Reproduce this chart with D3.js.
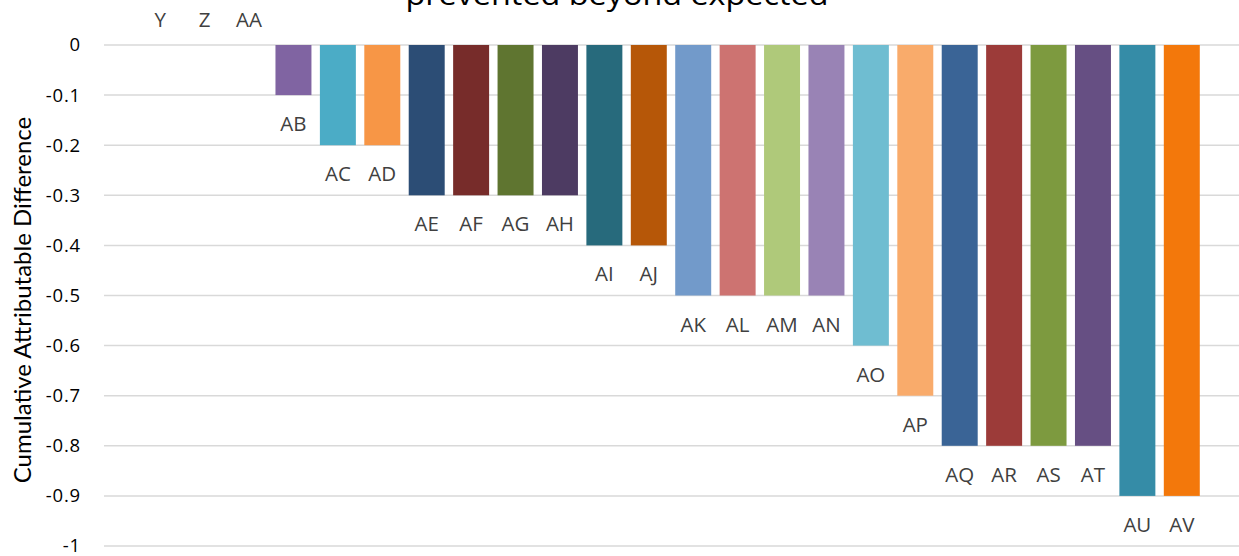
<!DOCTYPE html>
<html>
<head>
<meta charset="utf-8">
<script src="https://cdn.jsdelivr.net/npm/d3@7"></script>
<style>
  body { margin: 0; background: #fff; }
  svg { display: block; }
</style>
</head>
<body>
<div id="chart"></div>
<script>
// Data
const categories = ["Y", "Z", "AA", "AB", "AC", "AD", "AE", "AF", "AG", "AH", "AI", "AJ",
    "AK", "AL", "AM", "AN", "AO", "AP", "AQ", "AR", "AS", "AT", "AU", "AV"];
const values = [0, 0, 0, -0.1, -0.2, -0.2, -0.3, -0.3, -0.3, -0.3, -0.4, -0.4,
    -0.5, -0.5, -0.5, -0.5, -0.6, -0.7, -0.8, -0.8, -0.8, -0.8, -0.9, -0.9];
const barColors = ["#4f81bd", "#c0504d", "#9bbb59", "#8064a2", "#4bacc6", "#f79646",
    "#2c4d75", "#772c2a", "#5f7530", "#4d3b62", "#276a7c", "#b65708",
    "#729aca", "#cd7371", "#afc97a", "#9983b5", "#6fbdd1", "#f9ab6b",
    "#3a6496", "#9c3b39", "#7d9a3f", "#664f83", "#358ca7", "#f3780b"];
const yTicks = [0, -0.1, -0.2, -0.3, -0.4, -0.5, -0.6, -0.7, -0.8, -0.9, -1];
const titleText = "prevented beyond expected";
const yAxisTitle = "Cumulative Attributable Difference";

const data = categories.map((c, i) => ({ name: c, value: values[i], color: barColors[i] }));

const width = 1239, height = 556;
const gridLeft = 104, gridRight = 1239;

const svg = d3.select("#chart")
    .append("svg")
    .attr("width", width)
    .attr("height", height);

// Scales
const xScale = d3.scaleBand()
    .domain(categories)
    .range([138, 1204])
    .paddingInner(0.19)
    .paddingOuter(0.095);

const yScale = d3.scaleLinear()
    .domain([-1, 0])
    .range([546, 45]);

// Gridlines
svg.append("g")
    .selectAll("line")
    .data(yTicks)
    .enter()
    .append("line")
    .attr("x1", gridLeft)
    .attr("x2", gridRight)
    .attr("y1", d => yScale(d))
    .attr("y2", d => yScale(d))
    .attr("stroke", "#d9d9d9")
    .attr("stroke-width", 1.5);

// Y axis (labels only)
const yAxis = d3.axisLeft(yScale)
    .tickValues(yTicks)
    .tickSize(0)
    .tickPadding(0)
    .tickFormat(d => d === 0 ? "0" : String(+d.toFixed(1)));

const yAxisG = svg.append("g")
    .attr("transform", "translate(81,0)")
    .call(yAxis);
yAxisG.select(".domain").remove();
yAxisG.selectAll("text")
    .attr("font-family", "'Open Sans', sans-serif")
    .attr("font-size", 18.5)
    .attr("letter-spacing", 0.8)
    .attr("fill", "#000");

// Bars
svg.append("g")
    .selectAll("rect")
    .data(data)
    .enter()
    .append("rect")
    .attr("x", d => xScale(d.name))
    .attr("width", xScale.bandwidth())
    .attr("y", d => yScale(Math.max(0, d.value)))
    .attr("height", d => Math.abs(yScale(d.value) - yScale(0)))
    .attr("fill", d => d.color);

// Category labels at the outside end of each bar
svg.append("g")
    .selectAll("text")
    .data(data)
    .enter()
    .append("text")
    .attr("x", d => xScale(d.name) + xScale.bandwidth() / 2)
    .attr("y", d => d.value < 0 ? yScale(d.value) + 36 : yScale(0) - 18)
    .attr("text-anchor", "middle")
    .attr("font-family", "'Open Sans', sans-serif")
    .attr("font-size", 20.5)
    .attr("fill", "#404040")
    .text(d => d.name);

// Axis title
svg.append("text")
    .attr("transform", "translate(31,300) rotate(-90)")
    .attr("text-anchor", "middle")
    .attr("font-family", "Lato, 'Open Sans', sans-serif")
    .attr("font-size", 24)
    .attr("fill", "#000")
    .text(yAxisTitle);

// Chart title (cut off at the top edge, as in the reference)
svg.append("text")
    .attr("x", 617)
    .attr("y", 5)
    .attr("text-anchor", "middle")
    .attr("font-family", "'Open Sans', sans-serif")
    .attr("font-size", 30)
    .attr("textLength", 423)
    .attr("lengthAdjust", "spacingAndGlyphs")
    .attr("fill", "#000")
    .text(titleText);
</script>
</body>
</html>
